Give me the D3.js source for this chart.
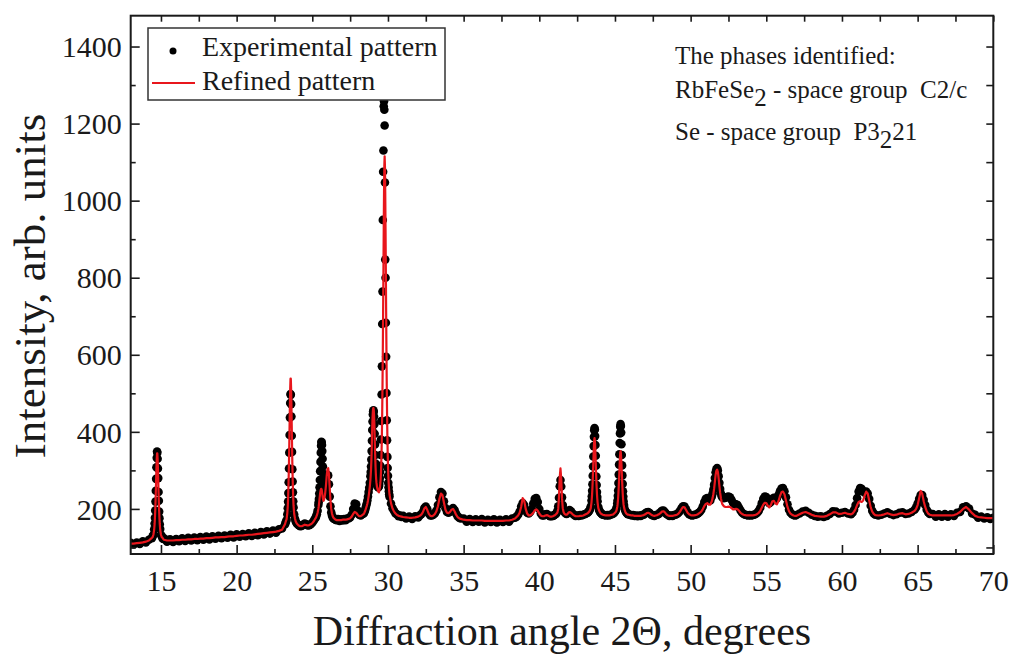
<!DOCTYPE html>
<html lang="en">
<head>
  <meta charset="UTF-8">
  <title>RbFeSe2 powder pattern</title>
  <style>
    body { margin: 0; background: #fff; }
    .chart text {
      font-family: "Liberation Serif", "Times New Roman", serif;
      fill: #1a1a1a;
    }
    .axis text { font-size: 30px; }
    .axis line { stroke: #1a1a1a; stroke-width: 1.6px; }
    .axis path { display: none; }
    .x-title { font-size: 42px; }
    .y-title { font-size: 45px; }
    .legend text { font-size: 28px; }
    .note { font-size: 25px; }
  </style>
</head>
<body>
  <svg class="chart" width="1010" height="655"></svg>
  <script src="https://d3js.org/d3.v7.min.js"></script>
  <script>
    // diffraction angle grid, degrees (finer steps across the peaks)
    var twoTheta = [
      13.0,13.2,13.4,13.6,13.8,14.0,14.2,
      14.40,14.45,14.50,14.55,14.58,14.60,14.62,14.64,14.66,14.68,14.70,14.72,14.74,14.76,14.78,14.80,14.82,14.84,14.86,14.88,14.90,14.92,14.95,15.00,15.05,15.10,15.15,
      15.2,15.4,15.6,15.8,16.0,16.2,16.4,16.6,16.8,17.0,17.2,17.4,17.6,17.8,18.0,18.2,18.4,18.6,18.8,19.0,19.2,19.4,19.6,19.8,20.0,20.2,20.4,20.6,20.8,21.0,21.2,21.4,21.6,21.8,22.0,22.2,22.4,22.6,22.8,23.0,
      23.20,23.25,23.30,23.35,23.38,23.40,23.42,23.44,23.46,23.48,23.50,23.52,23.54,23.56,23.58,23.60,23.62,23.64,23.66,23.68,23.70,23.72,23.74,23.76,23.80,23.85,23.90,23.95,
      24.0,24.1,24.2,24.3,24.4,24.5,24.6,24.7,24.8,24.9,25.0,25.1,
      25.20,25.25,25.30,25.35,25.40,25.42,25.44,25.46,25.48,25.50,25.52,25.54,25.56,25.58,25.60,25.62,25.64,25.66,25.68,25.70,25.72,25.74,25.76,25.78,25.80,25.85,25.90,25.95,26.00,26.05,26.10,26.15,26.20,26.25,26.30,26.35,26.40,26.45,26.50,26.55,
      26.6,26.7,26.8,26.9,27.0,27.1,27.2,27.3,27.4,27.5,27.6,27.7,27.8,27.9,28.0,28.1,28.2,28.3,
      28.40,28.44,28.48,28.52,28.56,28.60,28.64,28.68,28.72,28.76,28.80,28.84,28.86,28.88,28.90,28.92,28.94,28.96,28.98,29.00,29.02,29.04,29.06,29.08,29.10,29.12,29.14,29.16,29.18,29.20,29.22,29.24,29.28,29.32,29.36,
      29.40,29.42,29.44,29.46,29.48,29.50,29.52,29.54,29.56,29.58,29.60,29.62,29.64,29.66,29.68,29.70,29.72,29.74,29.76,29.78,29.80,29.82,29.84,29.86,29.88,29.90,29.92,29.94,29.96,29.98,30.00,30.02,30.04,30.06,30.08,30.10,
      30.2,30.3,30.4,30.5,30.6,30.7,30.8,30.9,
      31.0,31.2,31.4,31.6,31.8,32.0,
      32.1,32.2,32.3,32.4,32.5,32.6,32.7,32.8,32.9,33.0,33.1,33.2,33.3,33.4,33.5,33.6,33.7,33.8,33.9,34.0,34.1,34.2,34.3,34.4,34.5,34.6,34.7,34.8,
      35.0,35.2,35.4,35.6,35.8,36.0,36.2,36.4,36.6,36.8,37.0,37.2,37.4,37.6,37.8,38.0,38.2,38.4,
      38.5,38.6,38.7,38.8,38.9,39.0,39.1,39.2,39.3,39.4,39.5,39.6,39.7,39.8,39.9,40.0,40.1,40.2,40.3,40.4,40.5,40.6,40.7,40.8,
      40.90,40.95,41.00,41.05,41.10,41.15,41.20,41.25,41.30,41.35,41.40,41.45,41.50,41.55,41.60,41.65,41.70,41.75,41.80,41.85,
      41.9,42.0,42.1,42.2,42.3,42.4,42.5,42.6,42.7,42.8,42.9,43.0,43.1,43.2,
      43.25,43.30,43.35,43.40,43.45,43.47,43.49,43.51,43.53,43.55,43.57,43.59,43.61,43.63,43.65,43.67,43.69,43.71,43.73,43.75,43.77,43.79,43.81,43.83,43.85,43.90,43.95,44.00,44.05,44.10,44.15,
      44.2,44.3,44.4,44.5,44.6,44.7,44.8,44.9,
      44.95,45.00,45.05,45.10,45.15,45.17,45.19,45.21,45.23,45.25,45.27,45.29,45.31,45.33,45.35,45.37,45.39,45.41,45.43,45.45,45.47,45.49,45.51,45.53,45.55,45.57,45.60,45.65,45.70,45.75,45.80,45.85,
      45.9,46.0,46.1,46.2,46.3,46.4,46.5,46.6,46.7,46.8,46.9,47.0,47.1,47.2,47.3,47.4,47.5,47.6,47.7,47.8,47.9,48.0,48.1,48.2,48.3,48.4,48.5,48.6,48.7,48.8,48.9,49.0,49.1,49.2,49.3,49.4,49.5,49.6,49.7,49.8,49.9,50.0,50.1,50.2,50.3,50.4,50.5,50.6,
      50.7,50.8,50.9,51.0,51.1,51.2,51.3,51.4,
      51.45,51.50,51.55,51.60,51.65,51.70,51.75,51.80,51.85,51.90,51.95,52.00,52.05,
      52.1,52.2,52.3,52.4,52.5,52.6,52.7,52.8,52.9,53.0,53.1,53.2,53.3,53.4,53.5,
      53.6,53.7,53.8,53.9,54.0,54.1,54.2,54.3,54.4,54.5,54.6,54.7,54.8,54.9,55.0,55.1,55.2,55.3,55.4,55.5,55.6,55.7,55.8,55.9,56.0,56.1,56.2,56.3,56.4,56.5,56.6,56.7,56.8,56.9,57.0,
      57.2,57.4,57.6,57.8,58.0,58.2,58.4,58.6,58.8,59.0,59.2,59.4,59.6,59.8,60.0,60.2,60.4,60.6,
      60.7,60.8,60.9,61.0,61.1,61.2,61.3,61.4,61.5,61.6,61.7,61.8,61.9,62.0,62.1,62.2,
      62.4,62.6,62.8,63.0,63.2,63.4,63.6,63.8,64.0,64.2,64.4,64.6,64.8,
      64.9,65.0,65.1,65.2,65.3,65.4,65.5,65.6,65.7,65.8,
      66.0,66.2,66.4,66.6,66.8,67.0,67.2,67.4,67.6,67.8,68.0,68.2,68.4,68.6,68.8,69.0,69.2,69.4,69.6,69.8,70.0
    ];

    // measured intensity (black points)
    var expCounts = [
      112,108,113,109,116,113,120,
      124,129,133,147,162,177,196,219,247,278,308,333,349,346,330,305,280,244,221,193,176,160,148,133,129,124,122,
      124,115,121,114,122,116,124,117,125,118,126,119,127,120,128,121,129,123,130,124,131,125,133,126,134,128,135,129,137,130,138,132,140,134,142,136,144,138,147,149,
      160,166,171,186,202,219,241,269,305,346,392,437,475,498,496,472,440,390,348,303,271,243,220,204,186,175,168,164,
      161,158,155,156,159,162,160,157,158,160,164,170,
      176,180,186,195,210,217,226,240,256,275,298,322,346,364,374,373,366,350,330,310,292,276,262,252,246,240,250,268,286,287,264,232,207,191,183,178,175,174,173,172,
      171,174,169,173,170,174,171,175,175,178,185,200,214,212,196,185,183,186,
      188,192,196,202,208,214,222,232,244,255,268,285,296,310,328,350,377,405,427,445,453,456,452,440,420,395,367,340,318,300,288,278,262,258,256,
      258,263,272,280,296,312,340,380,428,497,570,680,764,950,1075,1130,1245,1258,1236,1195,1047,847,800,683,595,501,430,378,335,306,286,268,256,246,238,232,
      214,202,195,188,186,181,183,179,
      182,175,180,174,181,178,
      183,186,192,202,206,199,188,183,183,185,189,196,210,230,244,240,220,202,192,190,193,199,202,197,188,181,177,175,
      175,167,174,166,173,167,174,165,172,166,173,165,172,166,173,167,175,177,
      180,185,193,206,215,210,198,190,188,192,200,214,226,228,218,200,188,183,183,186,187,184,181,181,
      182,183,184,186,187,190,195,207,229,259,275,258,230,210,200,193,190,188,187,188,
      193,197,194,188,184,182,183,182,184,183,185,186,188,190,
      193,195,199,206,222,233,247,264,286,310,336,363,387,404,410,406,389,366,338,312,284,262,244,231,220,205,197,193,190,188,186,
      185,184,183,184,183,185,186,188,
      191,193,196,203,214,222,234,248,267,289,315,342,371,396,413,420,415,398,368,340,313,287,265,246,232,220,210,199,194,191,188,186,
      186,185,183,184,182,183,181,183,182,184,185,188,191,192,189,185,183,182,184,185,187,191,195,196,192,187,184,182,183,182,184,185,187,190,195,202,207,206,199,191,186,184,183,184,185,186,189,192,
      197,206,218,226,228,222,222,232,
      240,250,263,280,295,303,306,300,285,268,252,240,233,
      230,228,229,231,232,230,224,216,212,212,210,203,196,190,187,
      185,184,183,184,183,184,185,187,190,195,203,215,226,232,231,222,215,218,226,229,226,228,236,246,253,254,246,230,212,198,190,186,184,183,184,
      188,193,195,190,185,182,180,181,179,182,187,194,193,188,190,192,188,186,
      190,198,210,228,245,254,252,246,242,245,240,226,208,195,188,185,
      183,185,188,191,187,184,186,190,191,187,188,192,198,
      204,214,226,236,236,224,210,198,191,187,
      187,180,186,180,187,180,186,182,190,192,204,207,201,188,185,177,180,175,178,174,177
    ];

    // refined (calculated) profile (red line)
    var calcCounts = [
      110,110,111,112,113,115,118,
      125,127,133,146,161,176,194,217,244,274,304,328,344,344,328,304,274,244,217,194,176,161,146,133,127,125,122,
      120,118,118,118,119,119,120,120,121,121,122,122,123,123,124,124,125,126,126,127,127,128,129,129,130,131,131,132,133,133,134,135,136,137,138,139,140,141,143,146,
      161,168,173,190,208,226,251,283,322,369,420,470,512,538,538,512,470,420,369,322,283,251,227,209,188,176,168,164,
      161,157,155,155,157,159,158,157,158,160,163,168,
      175,178,183,190,200,205,212,219,227,234,241,246,250,252,252,250,245,239,232,227,223,221,222,224,228,240,260,285,303,306,290,255,222,200,188,181,177,175,173,172,
      171,171,171,171,172,172,172,173,174,176,180,187,192,190,185,181,181,184,
      187,190,194,198,203,208,214,222,232,244,258,276,288,302,321,345,376,410,436,452,460,462,457,445,422,392,360,332,308,290,277,268,256,250,245,
      243,246,249,254,260,268,280,298,321,353,396,453,524,610,710,817,926,1022,1091,1115,1091,1022,926,817,710,610,524,450,392,348,315,290,272,258,247,238,
      215,201,193,188,184,182,181,180,
      179,178,177,177,178,180,
      182,185,191,201,205,197,187,182,181,183,187,194,207,226,240,236,216,198,190,189,192,198,200,194,185,179,176,174,
      172,171,171,170,170,170,170,169,169,169,169,169,169,169,170,170,172,175,
      179,183,190,205,228,222,200,188,183,183,186,190,196,199,195,188,183,181,181,183,184,182,180,180,
      181,182,183,184,186,188,191,200,230,282,305,278,228,202,192,188,186,185,185,186,
      189,192,190,186,183,181,181,181,182,182,183,185,187,189,
      191,193,196,202,217,227,239,255,273,295,319,342,363,378,384,378,363,342,319,295,273,255,239,227,217,202,196,192,189,187,186,
      185,184,183,183,183,184,185,186,
      188,190,192,196,205,211,219,229,242,258,276,295,315,333,345,350,345,333,315,295,276,258,242,229,219,211,204,196,191,188,186,185,
      185,184,183,183,182,182,182,182,182,183,184,186,189,190,188,185,183,182,183,184,186,189,193,194,191,186,183,182,182,182,183,184,185,188,193,200,205,204,197,190,186,184,183,183,184,185,187,190,
      193,199,207,213,215,211,211,220,
      228,238,252,270,288,299,302,296,280,260,242,228,218,
      212,207,205,205,206,205,202,199,199,200,199,195,190,187,185,
      184,183,183,183,183,183,184,185,187,190,195,203,211,216,215,208,204,210,220,221,214,212,220,233,243,245,238,222,205,194,188,185,183,182,182,
      186,190,192,189,185,182,181,180,180,182,186,191,191,187,188,190,187,186,
      188,193,200,210,218,220,218,222,235,245,240,222,204,193,187,184,
      183,184,186,189,186,184,185,188,189,186,187,190,195,
      200,210,228,247,240,220,205,194,188,185,
      183,183,183,183,183,183,183,184,187,192,200,205,198,189,182,179,178,177,176,176,176
    ];

    var xTicks = [15, 20, 25, 30, 35, 40, 45, 50, 55, 60, 65, 70];
    var xMinorTicks = [17.5, 22.5, 27.5, 32.5, 37.5, 42.5, 47.5, 52.5, 57.5, 62.5, 67.5];
    var yTicks = [200, 400, 600, 800, 1000, 1200, 1400];
    var yMinorTicks = [100, 300, 500, 700, 900, 1100, 1300];
    var legendLabels = ["Experimental pattern", "Refined pattern"];

    if (expCounts.length !== twoTheta.length || calcCounts.length !== twoTheta.length) {
      throw new Error("length mismatch: " + twoTheta.length + " / " + expCounts.length + " / " + calcCounts.length);
    }

    var data = twoTheta.map(function(t, i) {
      return {t: t, exp: expCounts[i], calc: calcCounts[i]};
    });

    var margin = {top: 15.7, right: 16.7, bottom: 101, left: 130.7},
      width = 1010 - margin.left - margin.right,
      height = 655 - margin.top - margin.bottom;

    var x = d3.scaleLinear().domain([13, 70]).range([0, width]);
    var y = d3.scaleLinear().domain([83, 1480]).range([height, 0]);

    var svg = d3.select(".chart");
    var chart = svg.append("g")
      .attr("transform", "translate(" + margin.left + "," + margin.top + ")");

    chart.append("clipPath").attr("id", "plot-clip")
      .append("rect").attr("width", width).attr("height", height);

    var plot = chart.append("g").attr("clip-path", "url(#plot-clip)");

    // measured points
    plot.append("g")
      .selectAll("circle")
      .data(data)
      .enter().append("circle")
      .attr("cx", function(d) { return x(d.t); })
      .attr("cy", function(d) { return y(d.exp); })
      .attr("r", 4.3)
      .attr("fill", "#000");

    // refined profile
    var line = d3.line()
      .x(function(d) { return x(d.t); })
      .y(function(d) { return y(d.calc); });

    plot.append("path")
      .datum(data)
      .attr("d", line)
      .attr("fill", "none")
      .attr("stroke", "#e8161c")
      .attr("stroke-width", 2.2)
      .attr("stroke-linejoin", "round");

    // axes, ticks pointing inside
    chart.append("g")
      .attr("class", "x axis")
      .attr("transform", "translate(0," + height + ")")
      .call(d3.axisBottom(x).tickValues(xTicks).tickSize(-9).tickPadding(16).tickFormat(d3.format("d")));
    chart.append("g")
      .attr("class", "axis")
      .attr("transform", "translate(0," + height + ")")
      .call(d3.axisBottom(x).tickValues(xMinorTicks).tickSize(-5).tickFormat(""));
    chart.append("g")
      .attr("class", "axis")
      .call(d3.axisTop(x).tickValues(xTicks.concat(xMinorTicks)).tickSize(-6).tickFormat(""));

    chart.append("g")
      .attr("class", "y axis")
      .call(d3.axisLeft(y).tickValues(yTicks).tickSize(-9).tickPadding(9).tickFormat(d3.format("d")));
    chart.append("g")
      .attr("class", "axis")
      .call(d3.axisLeft(y).tickValues(yMinorTicks).tickSize(-5).tickFormat(""));
    chart.append("g")
      .attr("class", "axis")
      .attr("transform", "translate(" + width + ",0)")
      .call(d3.axisRight(y).tickValues(yTicks.concat(yMinorTicks)).tickSize(-7).tickFormat(""));

    chart.select(".y.axis").selectAll("text").attr("dy", "0.34em");

    chart.append("rect")
      .attr("width", width)
      .attr("height", height)
      .attr("fill", "none")
      .attr("stroke", "#1a1a1a")
      .attr("stroke-width", 2);

    // axis titles
    svg.append("text")
      .attr("class", "x-title")
      .attr("x", margin.left + x(41.5))
      .attr("y", 645)
      .attr("text-anchor", "middle")
      .text("Diffraction angle 2\u0398, degrees");

    svg.append("text")
      .attr("class", "y-title")
      .attr("transform", "translate(45,286) rotate(-90)")
      .attr("text-anchor", "middle")
      .text("Intensity, arb. units");

    // legend
    var legend = svg.append("g").attr("class", "legend");
    legend.append("rect")
      .attr("x", 148).attr("y", 28)
      .attr("width", 297).attr("height", 72)
      .attr("fill", "#fff")
      .attr("stroke", "#333")
      .attr("stroke-width", 1.5);
    legend.append("circle")
      .attr("cx", 173).attr("cy", 51).attr("r", 3.5)
      .attr("fill", "#000");
    legend.append("line")
      .attr("x1", 152).attr("x2", 195)
      .attr("y1", 83).attr("y2", 83)
      .attr("stroke", "#e8161c").attr("stroke-width", 2.2);
    legend.selectAll("text.item")
      .data(legendLabels)
      .enter().append("text")
      .attr("class", "item")
      .attr("x", 202)
      .attr("y", function(d, i) { return 56 + i * 34; })
      .text(function(d) { return d; });

    // phase notes
    var notes = svg.append("g").attr("class", "note");
    notes.append("text").attr("x", 675).attr("y", 64).text("The phases identified:");

    var n2 = notes.append("text").attr("x", 675).attr("y", 98);
    n2.append("tspan").text("RbFeSe");
    n2.append("tspan").attr("dy", 8).text("2");
    n2.append("tspan").attr("dy", -8).text(" - space group\u00a0 C2/c");

    var n3 = notes.append("text").attr("x", 675).attr("y", 140);
    n3.append("tspan").text("Se - space group\u00a0 P3");
    n3.append("tspan").attr("dy", 8).text("2");
    n3.append("tspan").attr("dy", -8).text("21");
  </script>
</body>
</html>
